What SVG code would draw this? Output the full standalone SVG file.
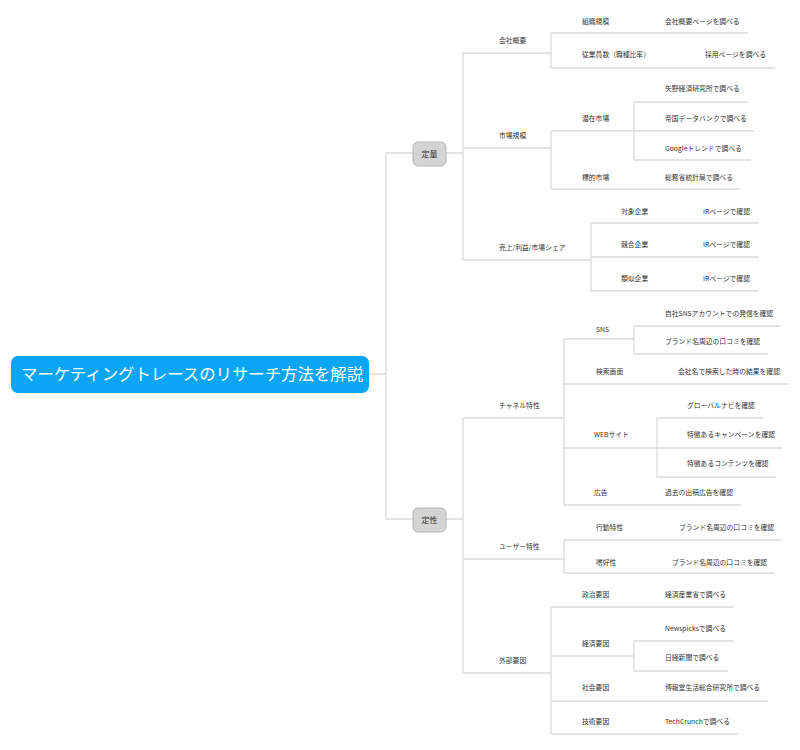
<svg xmlns="http://www.w3.org/2000/svg" width="800" height="750" viewBox="0 0 800 750">
<style>
.ln{stroke:#dcdcdc;stroke-width:1.3;fill:none}
.t{font-family:"Noto Sans CJK JP","Noto Sans",sans-serif;font-size:6.8px;fill:#333;dominant-baseline:central}
.b{fill:#d4d4d4;stroke:#ababab;stroke-width:0.8}
.bt{font-family:"Noto Sans CJK JP","Noto Sans",sans-serif;font-size:8px;fill:#333;text-anchor:middle;dominant-baseline:central}
</style>
<rect width="800" height="750" fill="#fff"/>
<g id="connectors" class="ln">
<path d="M369 374H386M386 153V519M386 153H413M386 519H413M446 153H463M446 519H463"/>
<path d="M463 53V260M463 53H551M551 33V68M551 33H748M551 68H775"/>
<path d="M463 148H551M551 131V189M551 131H754M634 102V160M634 102H748M634 160H751M551 189H740"/>
<path d="M463 260H591M591 223V291M591 223H759M591 257H759M591 291H759"/>
<path d="M463 418V673M463 418H564M564 339V505M564 339H634M634 326V354M634 326H781M634 354H768M564 384H788M564 448H657M657 418V477M657 418H763M657 448H782M657 477H776M564 505H741"/>
<path d="M463 559H564M564 540V573M564 540H782M564 573H775"/>
<path d="M463 673H551M551 607V734M551 607H734M551 656H634M634 641V671M634 641H734M634 671H728M551 701H768M551 734H738"/>
</g>
<g id="root">
<rect x="11" y="356" width="358" height="37" rx="7" fill="#0aa5f4"/>
<text x="21" y="373" font-family="'Noto Sans CJK JP','Noto Sans',sans-serif" font-size="16.4" fill="#fff" dominant-baseline="central">マーケティングトレースのリサーチ方法を解説</text>
</g>
<g id="teiryo"><rect class="b" x="413" y="142" width="33" height="24" rx="5"/><text class="bt" x="429.5" y="153.5">定量</text></g>
<g id="teisei"><rect class="b" x="413" y="508" width="33" height="24" rx="5"/><text class="bt" x="429.5" y="519.5">定性</text></g>
<g id="kaisha"><text class="t" x="499" y="40">会社概要</text></g>
<g id="soshiki"><text class="t" x="582" y="21">組織規模</text><text class="t" x="665" y="21">会社概要ページを調べる</text></g>
<g id="jugyoin"><text class="t" x="582" y="54">従業員数（職種比率）</text><text class="t" x="705" y="54">採用ページを調べる</text></g>
<g id="shijo"><text class="t" x="499" y="135">市場規模</text></g>
<g id="senzai"><text class="t" x="582" y="118">潜在市場</text><text class="t" x="665" y="88">矢野経済研究所で調べる</text><text class="t" x="665" y="118">帝国データバンクで調べる</text><text class="t" x="665" y="148">Googleトレンドで調べる</text></g>
<g id="hyoteki"><text class="t" x="582" y="177">標的市場</text><text class="t" x="665" y="177">総務省統計局で調べる</text></g>
<g id="uriage"><text class="t" x="499" y="247">売上/利益/市場シェア</text></g>
<g id="taisho"><text class="t" x="621" y="211">対象企業</text><text class="t" x="703" y="211">IRページで確認</text></g>
<g id="kyogo"><text class="t" x="621" y="244">競合企業</text><text class="t" x="703" y="244">IRページで確認</text></g>
<g id="ruiji"><text class="t" x="621" y="278">類似企業</text><text class="t" x="703" y="278">IRページで確認</text></g>
<g id="channel"><text class="t" x="499" y="405">チャネル特性</text></g>
<g id="sns"><text class="t" x="596" y="329">SNS</text><text class="t" x="665" y="313">自社SNSアカウントでの発信を確認</text><text class="t" x="665" y="341">ブランド名周辺の口コミを確認</text></g>
<g id="kensaku"><text class="t" x="596" y="371">検索画面</text><text class="t" x="678" y="371">会社名で検索した時の結果を確認</text></g>
<g id="web"><text class="t" x="594" y="434">WEBサイト</text><text class="t" x="687" y="405">グローバルナビを確認</text><text class="t" x="687" y="434">特徴あるキャンペーンを確認</text><text class="t" x="687" y="463">特徴あるコンテンツを確認</text></g>
<g id="kokoku"><text class="t" x="594" y="492">広告</text><text class="t" x="665" y="492">過去の出稿広告を確認</text></g>
<g id="user"><text class="t" x="499" y="546">ユーザー特性</text></g>
<g id="kodo"><text class="t" x="596" y="527">行動特性</text><text class="t" x="679" y="527">ブランド名周辺の口コミを確認</text></g>
<g id="shiko"><text class="t" x="596" y="562">嗜好性</text><text class="t" x="672" y="562">ブランド名周辺の口コミを確認</text></g>
<g id="gaibu"><text class="t" x="499" y="660">外部要因</text></g>
<g id="seiji"><text class="t" x="582" y="594">政治要因</text><text class="t" x="665" y="594">経済産業省で調べる</text></g>
<g id="keizai"><text class="t" x="582" y="643">経済要因</text><text class="t" x="665" y="628">Newspicksで調べる</text><text class="t" x="665" y="657">日経新聞で調べる</text></g>
<g id="shakai"><text class="t" x="582" y="687">社会要因</text><text class="t" x="665" y="687">博報堂生活総合研究所で調べる</text></g>
<g id="gijutsu"><text class="t" x="582" y="721">技術要因</text><text class="t" x="665" y="721">TechCrunchで調べる</text></g>
</svg>
